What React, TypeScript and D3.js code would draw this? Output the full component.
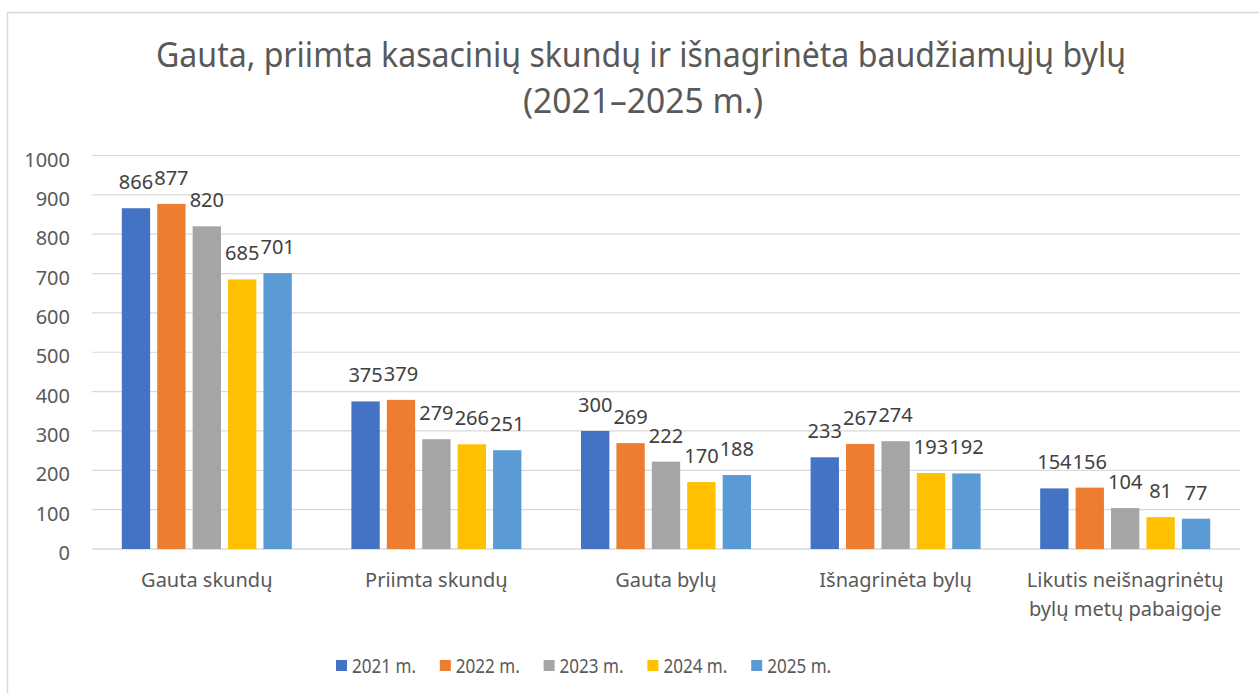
import React from "react";
import * as d3 from "d3";

const categories: string[][] = [
  ["Gauta skundų"],
  ["Priimta skundų"],
  ["Gauta bylų"],
  ["Išnagrinėta bylų"],
  ["Likutis neišnagrinėtų", "bylų metų pabaigoje"],
];
const seriesNames = ["2021 m.", "2022 m.", "2023 m.", "2024 m.", "2025 m."];
const v2021 = [866, 375, 300, 233, 154];
const v2022 = [877, 379, 269, 267, 156];
const v2023 = [820, 279, 222, 274, 104];
const v2024 = [685, 266, 170, 193, 81];
const v2025 = [701, 251, 188, 192, 77];
const seriesValues = [v2021, v2022, v2023, v2024, v2025];
const colors = ["#4472C4", "#ED7D31", "#A5A5A5", "#FFC000", "#5B9BD5"];
const yTicks = [0, 100, 200, 300, 400, 500, 600, 700, 800, 900, 1000];
const titleLines = [
  "Gauta, priimta kasacinių skundų ir išnagrinėta baudžiamųjų bylų",
  "(2021–2025 m.)",
];

const W = 1259;
const H = 693;
const FONT = "'Noto Sans', 'Open Sans', sans-serif";
const TEXT = "#595959";

export default function App() {
  const plotL = 92;
  const plotR = 1240;
  const y = d3.scaleLinear().domain([0, 1000]).range([549, 155.5]);
  const catKeys = categories.map((c) => c.join(" "));
  const x0 = d3.scaleBand<string>().domain(catKeys).range([plotL, plotR]).padding(0);
  const bw = x0.bandwidth();
  const groupW = 170;
  const x1 = d3
    .scaleBand<string>()
    .domain(seriesNames)
    .range([(bw - groupW) / 2, (bw + groupW) / 2])
    .paddingInner(0.2)
    .paddingOuter(0);

  const legendStart = 336;
  const legendStep = 103.8;

  return (
    <svg
      width={W}
      height={H}
      style={{ position: "absolute", left: 0, top: 0, background: "#fff" }}
      fontFamily={FONT}
    >
      <rect x={7.5} y={12.5} width={W + 10} height={H + 10} fill="#fff" stroke="#d9d9d9" strokeWidth={1.5} />
      <text x={641} y={67} textAnchor="middle" fontSize={34} fill={TEXT} textLength={970} lengthAdjust="spacingAndGlyphs">
        {titleLines[0]}
      </text>
      <text x={643} y={113} textAnchor="middle" fontSize={34} fill={TEXT} textLength={240} lengthAdjust="spacingAndGlyphs">
        {titleLines[1]}
      </text>

      {yTicks.map((t) => (
        <g key={t}>
          <line x1={plotL} x2={plotR} y1={y(t)} y2={y(t)} stroke="#d9d9d9" strokeWidth={t === 0 ? 1.5 : 1.2} />
          <text x={70} y={y(t) + 11} textAnchor="end" fontSize={20} fill={TEXT}>
            {t}
          </text>
        </g>
      ))}

      {catKeys.map((ck, ci) => (
        <g key={ck} transform={`translate(${x0(ck)},0)`}>
          {seriesNames.map((s, si) => {
            const val = seriesValues[si][ci];
            const bx = x1(s)!;
            const top = y(val);
            return (
              <g key={s}>
                <rect x={bx} y={top} width={x1.bandwidth()} height={y(0) - top} fill={colors[si]} />
                <text
                  x={bx + x1.bandwidth() / 2}
                  y={top - 19}
                  textAnchor="middle"
                  fontSize={20}
                  fill="#404040"
                >
                  {val}
                </text>
              </g>
            );
          })}
          {categories[ci].map((line, li) => (
            <text key={li} x={bw / 2} y={587 + li * 29} textAnchor="middle" fontSize={20} fill={TEXT}>
              {line}
            </text>
          ))}
        </g>
      ))}

      {seriesNames.map((s, si) => (
        <g key={s} transform={`translate(${legendStart + si * legendStep},0)`}>
          <rect x={0} y={660} width={11} height={11} fill={colors[si]} />
          <text x={16} y={673} fontSize={20} fill={TEXT} textLength={64} lengthAdjust="spacingAndGlyphs">
            {s}
          </text>
        </g>
      ))}
    </svg>
  );
}
